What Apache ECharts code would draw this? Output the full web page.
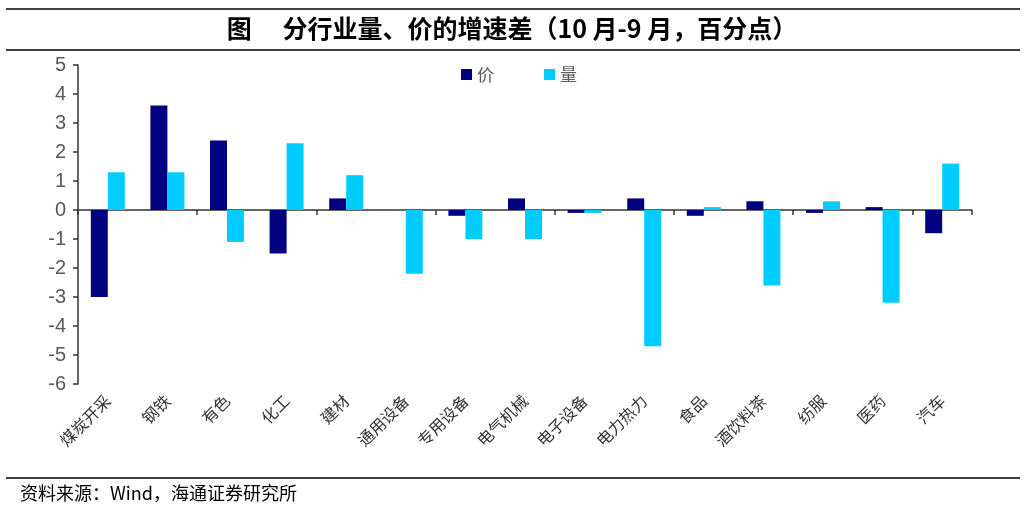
<!DOCTYPE html>
<html><head><meta charset="utf-8">
<script src="https://cdn.jsdelivr.net/npm/echarts@6/dist/echarts.min.js"></script>
<style>html,body{margin:0;padding:0;background:#fff}#c{width:1024px;height:509px}</style>
</head><body><div id="c"></div>
<script>
var categories = ['煤炭开采','钢铁','有色','化工','建材','通用设备','专用设备','电气机械','电子设备','电力热力','食品','酒饮料茶','纺服','医药','汽车'];
var priceValues = [-3.0, 3.6, 2.4, -1.5, 0.4, 0.0, -0.2, 0.4, -0.1, 0.4, -0.2, 0.3, -0.1, 0.1, -0.8];
var volumeValues = [1.3, 1.3, -1.1, 2.3, 1.2, -2.2, -1.0, -1.0, -0.1, -4.7, 0.1, -2.6, 0.3, -3.2, 1.6];
var yTicks = {min: -6, max: 5, interval: 1};
var titleText = '图　 分行业量、价的增速差（10 月-9 月，百分点）';
var sourceText = '资料来源：Wind，海通证券研究所';

var chart = echarts.init(document.getElementById('c'));
chart.setOption({
  animation: false,
  backgroundColor: '#fff',
  graphic: [
    {type: 'line', shape: {x1: 6, y1: 9, x2: 1020, y2: 9}, style: {stroke: '#404040', lineWidth: 2}},
    {type: 'line', shape: {x1: 6, y1: 50, x2: 1020, y2: 50}, style: {stroke: '#404040', lineWidth: 2}},
    {type: 'line', shape: {x1: 6, y1: 478, x2: 1020, y2: 478}, style: {stroke: '#404040', lineWidth: 2}},
    {type: 'text', left: 'center', top: 16, style: {text: titleText, font: 'bold 25px "Noto Sans CJK SC", sans-serif', fill: '#000'}},
    {type: 'text', left: 20, top: 484, style: {text: sourceText, font: '18px "Noto Sans CJK SC", sans-serif', fill: '#000'}}
  ],
  legend: {
    left: 456, top: 61, itemWidth: 11, itemHeight: 11, itemGap: 50, icon: 'rect',
    textStyle: {color: '#595959', fontSize: 17, fontFamily: '"Noto Sans CJK SC"'},
    data: ['价', '量']
  },
  grid: {left: 78, right: 52, top: 65, bottom: 125, containLabel: false},
  xAxis: [
    {type: 'category', data: categories, axisLine: {onZero: true, lineStyle: {color: '#333', width: 1.5}},
     axisTick: {show: true, length: 5, lineStyle: {color: '#333', width: 1.5}}, axisLabel: {show: false}},
    {type: 'category', data: categories, position: 'bottom', axisLine: {show: false}, axisTick: {show: false},
     axisLabel: {rotate: 45, margin: 14, interval: 0, color: '#333', fontSize: 16, fontFamily: '"Noto Sans CJK SC"'}}
  ],
  yAxis: {
    type: 'value', min: yTicks.min, max: yTicks.max, interval: yTicks.interval,
    splitLine: {show: false},
    axisLine: {show: true, lineStyle: {color: '#333', width: 1.5}},
    axisTick: {show: true, length: 5, lineStyle: {color: '#333', width: 1.5}},
    axisLabel: {color: '#595959', fontSize: 20, fontFamily: 'Liberation Sans, Arial', margin: 12}
  },
  series: [
    {name: '价', type: 'bar', xAxisIndex: 0, data: priceValues, barWidth: 17, barGap: '0%', itemStyle: {color: '#000080'}},
    {name: '量', type: 'bar', xAxisIndex: 0, data: volumeValues, barWidth: 17, barGap: '0%', itemStyle: {color: '#00CCFF'}}
  ]
});
</script></body></html>
